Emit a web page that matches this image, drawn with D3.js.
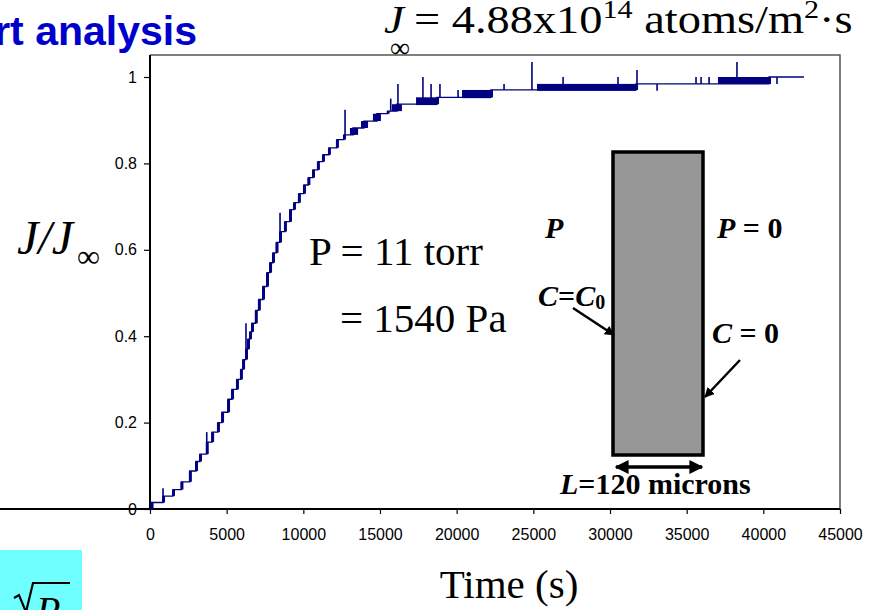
<!DOCTYPE html>
<html><head><meta charset="utf-8">
<script src="https://cdn.jsdelivr.net/npm/d3@7"></script>
<style>body{margin:0;background:#fff;overflow:hidden}</style>
</head><body><svg id="c" width="873" height="610"></svg>
<script>
// ---- data ----
const stepTimes  = [0, 100, 850, 1500, 2050, 2600, 3000, 3260, 3700, 4050, 4430, 4700, 5090, 5350, 5670, 5930, 6070, 6260, 6390, 6520, 6650, 6900, 7100, 7370, 7630, 7830, 8020, 8250, 8480, 8800, 9130, 9390, 9710, 10040, 10330, 10630, 10950, 11280, 11670, 12190, 12650, 13240, 13950, 14800, 15500, 16100, 18720, 22240, 31700, 40370, 42650];
const stepValues = [0, 0.015, 0.03, 0.045, 0.063, 0.088, 0.11, 0.127, 0.155, 0.178, 0.2, 0.224, 0.254, 0.277, 0.30, 0.323, 0.346, 0.37, 0.393, 0.41, 0.43, 0.46, 0.485, 0.515, 0.547, 0.57, 0.593, 0.617, 0.642, 0.665, 0.693, 0.709, 0.73, 0.75, 0.767, 0.785, 0.804, 0.82, 0.836, 0.855, 0.866, 0.882, 0.898, 0.915, 0.921, 0.937, 0.953, 0.970, 0.984, 1.0, 1.0];
const spikeTimes = [850, 3700, 6260, 8480, 12720, 15700, 16170, 17800, 18330, 18910, 20090, 23090, 24910, 26940, 30520, 31760, 33070, 35610, 35940, 36460, 38280, 40890];
const spikeTops  = [0.048, 0.178, 0.43, 0.686, 0.924, 0.95, 0.984, 1.0, 0.984, 0.984, 0.970, 0.984, 1.035, 1.0, 1.0, 1.016, 0.968, 1.0, 1.0, 1.0, 1.035, 0.984];
const bandStart = [13040, 13760, 14540, 15780, 17350, 20350, 25240, 37040];
const bandEnd   = [13570, 14220, 15060, 16430, 18720, 22240, 31700, 40370];
const bandLow   = [0.866, 0.882, 0.898, 0.921, 0.935, 0.951, 0.968, 0.984];
const bandHigh  = [0.882, 0.898, 0.915, 0.937, 0.953, 0.970, 0.984, 1.0];
const xTicks = [0, 5000, 10000, 15000, 20000, 25000, 30000, 35000, 40000, 45000];
const yTicks = [0, 0.2, 0.4, 0.6, 0.8, 1];
const yTickLabels = ["0", "0.2", "0.4", "0.6", "0.8", "1"];

// ---- drawing ----
const svg = d3.select("#c");
const NAVY = "#000080";
const x = d3.scaleLinear().domain([0, 45000]).range([150, 840]);
const y = d3.scaleLinear().domain([0, 1]).range([509, 77]);
const yTop = y(1.051);

svg.append("path")
  .attr("d", `M${x(0)},${yTop}H${x(45000)}V${y(0)}`)
  .attr("fill", "none").attr("stroke", "#555").attr("stroke-width", 1.5);

const ax = svg.append("g").attr("transform", `translate(0,${y(0)})`)
  .call(d3.axisBottom(x).tickValues(xTicks).tickFormat(d3.format("d")).tickSize(5).tickPadding(15));
const ay = svg.append("g").attr("transform", `translate(${x(0)},0)`)
  .call(d3.axisLeft(y).tickValues(yTicks).tickFormat((d, i) => yTickLabels[i]).tickSize(6).tickPadding(7));
[ax, ay].forEach(g => {
  g.selectAll("text").attr("font-family", "Liberation Sans, Arial, sans-serif").attr("font-size", 16).attr("fill", "#000");
  g.selectAll("line").attr("stroke", "#000").attr("stroke-width", 1.2);
  g.select(".domain").attr("stroke", "#000").attr("stroke-width", 2);
});
ay.select(".domain").attr("d", `M0,${y(0)}V${yTop}`);
ax.select(".domain").attr("d", `M0,0H${x(45000)}`);

const pts = stepTimes.map((t, i) => [t, stepValues[i]]);
const stepAt = t => { let v = 0; for (let i = 0; i < stepTimes.length; i++) if (stepTimes[i] <= t) v = stepValues[i]; return v; };

svg.append("g").selectAll("rect.band")
  .data(bandStart.map((s, i) => ({s, e: bandEnd[i], lo: bandLow[i], hi: bandHigh[i]})))
  .join("rect").attr("class", "band")
  .attr("x", d => x(d.s)).attr("width", d => x(d.e) - x(d.s))
  .attr("y", d => y(d.hi)).attr("height", d => y(d.lo) - y(d.hi))
  .attr("fill", NAVY);

svg.append("path").datum(pts)
  .attr("d", d3.line().x(d => x(d[0])).y(d => y(d[1])).curve(d3.curveStepAfter))
  .attr("fill", "none").attr("stroke", NAVY).attr("stroke-width", 1.3);

svg.append("g").selectAll("rect")
  .data(pts.slice(1).map((p, i) => ({t: p[0], v0: pts[i][1], v1: p[1]})).filter(d => d.v1 !== d.v0))
  .join("rect")
  .attr("x", d => x(d.t) - 1).attr("width", 3)
  .attr("y", d => y(d.v1)).attr("height", d => y(d.v0) - y(d.v1))
  .attr("fill", NAVY);

svg.append("g").selectAll("line")
  .data(spikeTimes.map((t, i) => ({t, top: spikeTops[i], base: stepAt(t)})))
  .join("line")
  .attr("x1", d => x(d.t)).attr("x2", d => x(d.t))
  .attr("y1", d => y(d.base)).attr("y2", d => y(d.top))
  .attr("stroke", NAVY).attr("stroke-width", 1.6);

// ---- annotations ----
const serif = "Liberation Serif, Times New Roman, serif";
svg.append("text").attr("x", 197).attr("y", 45).attr("text-anchor", "end")
  .attr("font-family", "Liberation Sans, Arial, sans-serif").attr("font-weight", "bold")
  .attr("font-size", 41).attr("fill", "#0000CC").text("rt analysis");

svg.append("text").attr("transform", "translate(384,33) scale(1.12,1)").attr("font-family", serif).attr("font-size", 40)
  .attr("font-style", "italic").text("J");
svg.append("text").attr("x", 390).attr("y", 57).attr("font-family", serif).attr("font-size", 28).text("∞");
const jt = svg.append("text").attr("transform", "translate(414,33) scale(1.16,1)")
  .attr("font-family", serif).attr("font-size", 40);
jt.append("tspan").text("= 4.88x10");
jt.append("tspan").attr("font-size", 26).attr("dy", -15).text("14");
jt.append("tspan").attr("dy", 15).text(" atoms/m");
jt.append("tspan").attr("font-size", 26).attr("dy", -15).text("2");
jt.append("tspan").attr("dy", 15).text("·s");

svg.append("text").attr("x", 17).attr("y", 254).attr("font-family", serif).attr("font-size", 48)
  .attr("font-style", "italic").text("J/J");
svg.append("text").attr("x", 77).attr("y", 267).attr("font-family", serif).attr("font-size", 32).text("∞");

svg.append("text").attr("x", 509).attr("y", 598).attr("text-anchor", "middle")
  .attr("font-family", serif).attr("font-size", 41).text("Time (s)");

svg.append("text").attr("x", 309).attr("y", 265).attr("font-family", serif).attr("font-size", 41).text("P = 11 torr");
svg.append("text").attr("x", 340).attr("y", 332).attr("font-family", serif).attr("font-size", 41).text("= 1540 Pa");

const defs = svg.append("defs");
defs.append("marker").attr("id", "ah").attr("viewBox", "0 0 10 10").attr("refX", 9).attr("refY", 5)
  .attr("markerWidth", 4).attr("markerHeight", 4).attr("orient", "auto-start-reverse")
  .append("path").attr("d", "M0,0L10,5L0,10z").attr("fill", "#000");
svg.append("rect").attr("x", 613).attr("y", 152).attr("width", 90).attr("height", 303)
  .attr("fill", "#979797").attr("stroke", "#000").attr("stroke-width", 3.5);
svg.append("line").attr("x1", 573).attr("y1", 308).attr("x2", 614).attr("y2", 335)
  .attr("stroke", "#000").attr("stroke-width", 2.5).attr("marker-end", "url(#ah)");
svg.append("line").attr("x1", 740).attr("y1", 360).attr("x2", 705).attr("y2", 397)
  .attr("stroke", "#000").attr("stroke-width", 2.5).attr("marker-end", "url(#ah)");
svg.append("line").attr("x1", 616).attr("y1", 467).attr("x2", 702).attr("y2", 467)
  .attr("stroke", "#000").attr("stroke-width", 3.5).attr("marker-end", "url(#ah)").attr("marker-start", "url(#ah)");

const bt = (xx, yy) => svg.append("text").attr("x", xx).attr("y", yy).attr("font-family", serif)
  .attr("font-size", 30).attr("font-weight", "bold");
bt(545, 238).append("tspan").attr("font-style", "italic").text("P");
{ const t = bt(717, 238); t.append("tspan").attr("font-style", "italic").text("P"); t.append("tspan").text(" = 0"); }
{ const t = bt(538, 306); t.append("tspan").attr("font-style", "italic").text("C");
  t.append("tspan").text("=");
  t.append("tspan").attr("font-style", "italic").text("C");
  t.append("tspan").attr("font-size", 20).attr("dy", 3).text("0"); }
{ const t = bt(712, 343); t.append("tspan").attr("font-style", "italic").text("C"); t.append("tspan").text(" = 0"); }
{ const t = bt(560, 494); t.append("tspan").attr("font-style", "italic").text("L"); t.append("tspan").text("=120 microns"); }

svg.append("rect").attr("x", 0).attr("y", 550).attr("width", 82).attr("height", 60).attr("fill", "#70FFFF");
svg.append("path").attr("d", "M14,598L19,595L26,612L33,583H70")
  .attr("fill", "none").attr("stroke", "#000").attr("stroke-width", 2.2);
svg.append("text").attr("x", 36).attr("y", 624).attr("font-family", serif).attr("font-size", 40)
  .attr("font-style", "italic").text("P");
</script></body></html>
